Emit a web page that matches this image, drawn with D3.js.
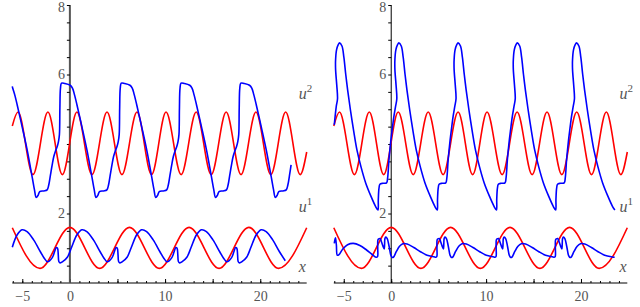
<!DOCTYPE html>
<html>
<head>
<meta charset="utf-8">
<script src="https://cdn.jsdelivr.net/npm/d3@7"></script>
<style>
  body { margin: 0; background: #fff; }
  svg { display: block; }
  .curve-label { font-family: 'Liberation Serif', serif; font-style: italic; font-size: 16px; fill: #555; }
</style>
</head>
<body>
<svg width="640" height="307"></svg>
<script>
// tick labels
const xTickLabels = [-5, 0, 10, 20];
const yTickLabels = [2, 6, 8];

// red curves (same in both panels): [t, value]
const redU2 = [[-6.05, 4.52], [-5.45, 4.92], [-3.88, 3.12], [-2.31, 4.92], [-0.79, 3.12], [0.74, 4.92],
  [2.32, 3.12], [3.9, 4.92], [5.47, 3.12], [7.05, 4.92], [8.58, 3.12], [10.1, 4.92], [11.69, 3.12],
  [13.27, 4.92], [14.85, 3.12], [16.42, 4.92], [17.98, 3.12], [19.55, 4.92], [21.11, 3.12],
  [22.67, 4.92], [24.2, 3.12], [24.88, 3.77]];
const redX = [[-6.05, 1.59], [-3.14, 0.42], [0, 1.6], [3.13, 0.42], [6.26, 1.6], [9.4, 0.42],
  [12.52, 1.6], [15.67, 0.42], [18.8, 1.6], [21.92, 0.42], [24.88, 1.59]];

// left panel, blue curves
const blueLeftUpper = [[-6.05, 5.66], [-6.01, 5.61], [-5.80, 5.42], [-5.54, 5.13], [-5.02, 4.5], [-4.49, 3.83],
  [-3.97, 3.06], [-3.72, 2.68], [-3.54, 2.46], [-3.33, 2.53], [-3.17, 2.63], [-2.74, 2.65], [-2.39, 2.68],
  [-2.22, 2.82], [-2.04, 3.11], [-1.86, 3.40], [-1.69, 3.64], [-1.51, 3.80], [-1.33, 3.93],
  [-1.20, 4.07], [-1.10, 4.27], [-1.05, 5.03], [-0.99, 5.6], [-0.88, 5.75], [-0.53, 5.74], [0.03, 5.69],
  [0.27, 5.61], [0.48, 5.42], [0.74, 5.13], [1.26, 4.5], [1.79, 3.83], [2.31, 3.06], [2.56, 2.68],
  [2.74, 2.46], [2.95, 2.53], [3.11, 2.63], [3.54, 2.65], [3.89, 2.68], [4.06, 2.82], [4.24, 3.11],
  [4.42, 3.40], [4.59, 3.64], [4.77, 3.80], [4.95, 3.93],
  [5.08, 4.07], [5.18, 4.27], [5.23, 5.03], [5.29, 5.6], [5.40, 5.75], [5.75, 5.74], [6.31, 5.69],
  [6.55, 5.61], [6.76, 5.42], [7.02, 5.13], [7.54, 4.5], [8.07, 3.83], [8.59, 3.06], [8.84, 2.68],
  [9.02, 2.46], [9.23, 2.53], [9.39, 2.63], [9.82, 2.65], [10.17, 2.68], [10.34, 2.82], [10.52, 3.11],
  [10.70, 3.40], [10.87, 3.64], [11.05, 3.80], [11.23, 3.93],
  [11.36, 4.07], [11.46, 4.27], [11.51, 5.03], [11.57, 5.6], [11.68, 5.75], [12.03, 5.74], [12.59, 5.69],
  [12.83, 5.61], [13.04, 5.42], [13.30, 5.13], [13.82, 4.5], [14.35, 3.83], [14.87, 3.06], [15.12, 2.68],
  [15.30, 2.46], [15.51, 2.53], [15.67, 2.63], [16.10, 2.65], [16.45, 2.68], [16.62, 2.82], [16.80, 3.11],
  [16.98, 3.40], [17.15, 3.64], [17.33, 3.80], [17.51, 3.93],
  [17.64, 4.07], [17.74, 4.27], [17.79, 5.03], [17.85, 5.6], [17.96, 5.75], [18.31, 5.74], [18.87, 5.69],
  [19.11, 5.61], [19.32, 5.42], [19.58, 5.13], [20.10, 4.5], [20.63, 3.83], [21.15, 3.06], [21.40, 2.68],
  [21.58, 2.46], [21.79, 2.53], [21.95, 2.63], [22.38, 2.65], [22.73, 2.68], [22.90, 2.82], [23.08, 3.11],
  [23.24, 3.40]];
const blueLeftLower = [[-6.05, 1.03], [-5.55, 1.38], [-5.03, 1.53], [-4.50, 1.48], [-3.81, 1.24], [-3.10, 0.9],
  [-2.71, 0.72], [-2.35, 0.61], [-1.85, 0.73], [-1.61, 0.9], [-1.43, 1.02], [-1.30, 1.0], [-1.22, 0.81],
  [-1.16, 0.62], [-1.03, 0.58], [-0.73, 0.62], [-0.27, 0.74], [0.17, 1.02], [0.73, 1.38], [1.25, 1.53],
  [1.78, 1.48], [2.47, 1.24], [3.18, 0.9], [3.57, 0.72],
  [3.93, 0.61], [4.43, 0.73], [4.67, 0.9], [4.85, 1.02], [4.98, 1.0], [5.06, 0.81], [5.12, 0.62],
  [5.25, 0.58], [5.55, 0.62], [6.01, 0.74], [6.45, 1.02], [7.01, 1.38], [7.53, 1.53], [8.06, 1.48],
  [8.75, 1.24], [9.46, 0.9], [9.85, 0.72],
  [10.21, 0.61], [10.71, 0.73], [10.95, 0.9], [11.13, 1.02], [11.26, 1.0], [11.34, 0.81], [11.40, 0.62],
  [11.53, 0.58], [11.83, 0.62], [12.29, 0.74], [12.73, 1.02], [13.29, 1.38], [13.81, 1.53], [14.34, 1.48],
  [15.03, 1.24], [15.74, 0.9], [16.13, 0.72],
  [16.49, 0.61], [16.99, 0.73], [17.23, 0.9], [17.41, 1.02], [17.54, 1.0], [17.62, 0.81], [17.68, 0.62],
  [17.81, 0.58], [18.11, 0.62], [18.57, 0.74], [19.01, 1.02], [19.57, 1.38], [20.09, 1.53], [20.62, 1.48],
  [21.31, 1.24], [22.02, 0.9], [22.63, 0.64]];

// right panel, blue curves
const blueRightUpper = [[-6.0, 4.55], [-5.79, 5.08], [-5.66, 5.3], [-5.74, 5.7], [-5.86, 6.14], [-5.86, 6.43],
  [-5.76, 6.71], [-5.58, 6.86], [-5.44, 6.91], [-5.19, 6.82], [-4.99, 6.5], [-4.79, 6.0], [-4.59, 5.55],
  [-4.31, 5.0], [-3.94, 4.35], [-3.59, 3.8], [-3.19, 3.35], [-2.69, 2.88], [-2.14, 2.5], [-1.64, 2.2],
  [-1.40, 2.1],
  [-1.36, 2.4], [-1.29, 2.72], [-1.19, 2.84], [-0.89, 2.87], [-0.49, 2.88], [-0.38, 3.02], [-0.24, 3.54],
  [-0.14, 3.83], [-0.03, 4.12], [0.10, 4.41], [0.28, 4.79], [0.46, 5.08], [0.59, 5.3], [0.51, 5.7],
  [0.39, 6.14], [0.39, 6.43], [0.49, 6.71], [0.67, 6.86], [0.81, 6.91], [1.06, 6.82], [1.26, 6.5],
  [1.46, 6.0], [1.66, 5.55], [1.94, 5.0], [2.31, 4.35], [2.66, 3.8], [3.06, 3.35], [3.56, 2.88],
  [4.11, 2.5], [4.61, 2.2], [4.85, 2.1],
  [4.88, 2.4], [4.95, 2.72], [5.05, 2.84], [5.35, 2.87], [5.75, 2.88], [5.86, 3.02], [6.00, 3.54],
  [6.10, 3.83], [6.21, 4.12], [6.34, 4.41], [6.52, 4.79], [6.70, 5.08], [6.83, 5.3], [6.75, 5.7],
  [6.63, 6.14], [6.63, 6.43], [6.73, 6.71], [6.91, 6.86], [7.05, 6.91], [7.30, 6.82], [7.50, 6.5],
  [7.70, 6.0], [7.90, 5.55], [8.18, 5.0], [8.55, 4.35], [8.90, 3.8], [9.30, 3.35], [9.80, 2.88],
  [10.35, 2.5], [10.85, 2.2], [11.09, 2.1],
  [11.12, 2.4], [11.19, 2.72], [11.29, 2.84], [11.59, 2.87], [11.99, 2.88], [12.10, 3.02], [12.24, 3.54],
  [12.34, 3.83], [12.45, 4.12], [12.58, 4.41], [12.76, 4.79], [12.94, 5.08], [13.07, 5.3], [12.99, 5.7],
  [12.87, 6.14], [12.87, 6.43], [12.97, 6.71], [13.15, 6.86], [13.29, 6.91], [13.54, 6.82], [13.74, 6.5],
  [13.94, 6.0], [14.14, 5.55], [14.42, 5.0], [14.79, 4.35], [15.14, 3.8], [15.54, 3.35], [16.04, 2.88],
  [16.59, 2.5], [17.09, 2.2], [17.33, 2.1],
  [17.36, 2.4], [17.43, 2.72], [17.53, 2.84], [17.83, 2.87], [18.23, 2.88], [18.34, 3.02], [18.48, 3.54],
  [18.58, 3.83], [18.69, 4.12], [18.82, 4.41], [19.00, 4.79], [19.18, 5.08], [19.31, 5.3], [19.23, 5.7],
  [19.11, 6.14], [19.11, 6.43], [19.21, 6.71], [19.39, 6.86], [19.53, 6.91], [19.78, 6.82], [19.98, 6.5],
  [20.18, 6.0], [20.38, 5.55], [20.66, 5.0], [21.03, 4.35], [21.38, 3.8], [21.78, 3.35], [22.28, 2.88],
  [22.83, 2.5], [23.33, 2.2], [23.57, 2.1]];
const blueRightLower = [[-6.0, 1.14], [-5.88, 1.3], [-5.78, 1.1], [-5.68, 0.8], [-5.5, 0.82], [-5.1, 0.98],
  [-4.6, 1.1], [-4.0, 1.14], [-3.3, 1.08], [-2.6, 0.95], [-2.0, 0.82], [-1.57, 0.74],
  [-1.44, 0.76], [-1.42, 1.0], [-1.40, 1.24], [-1.32, 1.27], [-1.17, 1.28], [-1.02, 1.18], [-0.87, 1.06],
  [-0.74, 0.98], [-0.70, 1.1], [-0.66, 1.28], [-0.57, 1.32], [-0.42, 1.28], [-0.22, 1.05], [-0.04, 0.8],
  [0.08, 0.74], [0.23, 0.74], [0.53, 0.9], [0.88, 1.06], [1.23, 1.13], [1.68, 1.12], [2.38, 1.02],
  [3.08, 0.9], [3.78, 0.8], [4.58, 0.75], [4.67, 0.74],
  [4.80, 0.76], [4.82, 1.0], [4.84, 1.24], [4.92, 1.27], [5.07, 1.28], [5.22, 1.18], [5.37, 1.06],
  [5.50, 0.98], [5.54, 1.1], [5.58, 1.28], [5.67, 1.32], [5.82, 1.28], [6.02, 1.05], [6.20, 0.8],
  [6.32, 0.74], [6.47, 0.74], [6.77, 0.9], [7.12, 1.06], [7.47, 1.13], [7.92, 1.12], [8.62, 1.02],
  [9.32, 0.9], [10.02, 0.8], [10.82, 0.75], [10.91, 0.74],
  [11.04, 0.76], [11.06, 1.0], [11.08, 1.24], [11.16, 1.27], [11.31, 1.28], [11.46, 1.18], [11.61, 1.06],
  [11.74, 0.98], [11.78, 1.1], [11.82, 1.28], [11.91, 1.32], [12.06, 1.28], [12.26, 1.05], [12.44, 0.8],
  [12.56, 0.74], [12.71, 0.74], [13.01, 0.9], [13.36, 1.06], [13.71, 1.13], [14.16, 1.12], [14.86, 1.02],
  [15.56, 0.9], [16.26, 0.8], [17.06, 0.75], [17.15, 0.74],
  [17.28, 0.76], [17.30, 1.0], [17.32, 1.24], [17.40, 1.27], [17.55, 1.28], [17.70, 1.18], [17.85, 1.06],
  [17.98, 0.98], [18.02, 1.1], [18.06, 1.28], [18.15, 1.32], [18.30, 1.28], [18.50, 1.05], [18.68, 0.8],
  [18.80, 0.74], [18.95, 0.74], [19.25, 0.9], [19.60, 1.06], [19.95, 1.13], [20.40, 1.12], [21.10, 1.02],
  [21.80, 0.9], [22.50, 0.8], [23.30, 0.75], [23.55, 0.74]];

// curve names on the right edge: [main, superscript, value at baseline]
const curveLabels = [['u', '2', 5.3], ['u', '1', 2.05], ['x', '', 0.32]];

const svg = d3.select('svg');
const serif = '"Liberation Serif", "DejaVu Serif", serif';

const yScale = d3.scaleLinear().domain([0, 8]).range([283, 5]);

const renderPanel = (left, right, axisColor, axisWidth, blueUpper, blueLower) => {
  const xScale = d3.scaleLinear().domain([-6.05, 24.88]).range([left, right]);
  const g = svg.append('g');

  // x axis: minor ticks every unit, taller every 5
  const xMinor = d3.axisBottom(xScale)
    .tickValues(d3.range(-6, 25, 1))
    .tickSize(-2).tickFormat('');
  const xMajor = d3.axisBottom(xScale)
    .tickValues([-5, 0, 5, 10, 15, 20])
    .tickSize(-4).tickPadding(5)
    .tickFormat(d => xTickLabels.includes(d) ? String(d).replace('-', '\u2212') : '');
  const xAxisG = g.append('g').attr('transform', `translate(0,${yScale(0)})`).call(xMajor);
  g.append('g').attr('transform', `translate(0,${yScale(0)})`).call(xMinor).select('.domain').remove();
  xAxisG.select('.domain').attr('stroke', '#000').attr('d', `M${left},0H${right}`);
  xAxisG.selectAll('.tick text').attr('dy', '0.95em');

  // y axis at t = 0
  const yAxis = d3.axisLeft(yScale)
    .tickValues(d3.range(0.5, 8.01, 0.5))
    .tickSize(3).tickPadding(2)
    .tickFormat(d => yTickLabels.includes(d) ? d : '');
  const yAxisG = g.append('g').attr('transform', `translate(${xScale(0)},0)`).call(yAxis);
  yAxisG.select('.domain').attr('stroke', axisColor).attr('stroke-width', axisWidth)
    .attr('d', `M0,${yScale(0)}V${yScale(8)}`);
  yAxisG.selectAll('.tick text').filter(d => d === 8).attr('y', 2);

  g.selectAll('.tick text')
    .style('font-family', serif).style('font-size', '14px').style('fill', '#555');

  const redLine = d3.line()
    .x(d => xScale(d[0]))
    .y(d => yScale(d[1]))
    .curve(d3.curveMonotoneX);
  const blueLine = d3.line()
    .x(d => xScale(d[0]))
    .y(d => yScale(d[1]))
    .curve(d3.curveCatmullRom.alpha(0.5));

  [redU2, redX].forEach(data => {
    g.append('path').attr('d', redLine(data))
      .attr('fill', 'none').attr('stroke', '#ff0000').attr('stroke-width', 1.6);
  });
  [blueUpper, blueLower].forEach(data => {
    g.append('path').attr('d', blueLine(data))
      .attr('fill', 'none').attr('stroke', '#0000ff').attr('stroke-width', 1.6)
      .attr('stroke-linejoin', 'round');
  });

  curveLabels.forEach(([main, sup, v]) => {
    const t = g.append('text').attr('class', 'curve-label')
      .attr('x', xScale(24.05)).attr('y', yScale(v)).text(main);
    if (sup) t.append('tspan').attr('font-size', 11).attr('dy', -7).attr('font-style', 'normal').text(sup);
  });
};

renderPanel(12.3, 306.7, '#555', 2, blueLeftUpper, blueLeftLower);
renderPanel(333.8, 627.3, '#000', 1, blueRightUpper, blueRightLower);
</script>
</body>
</html>
